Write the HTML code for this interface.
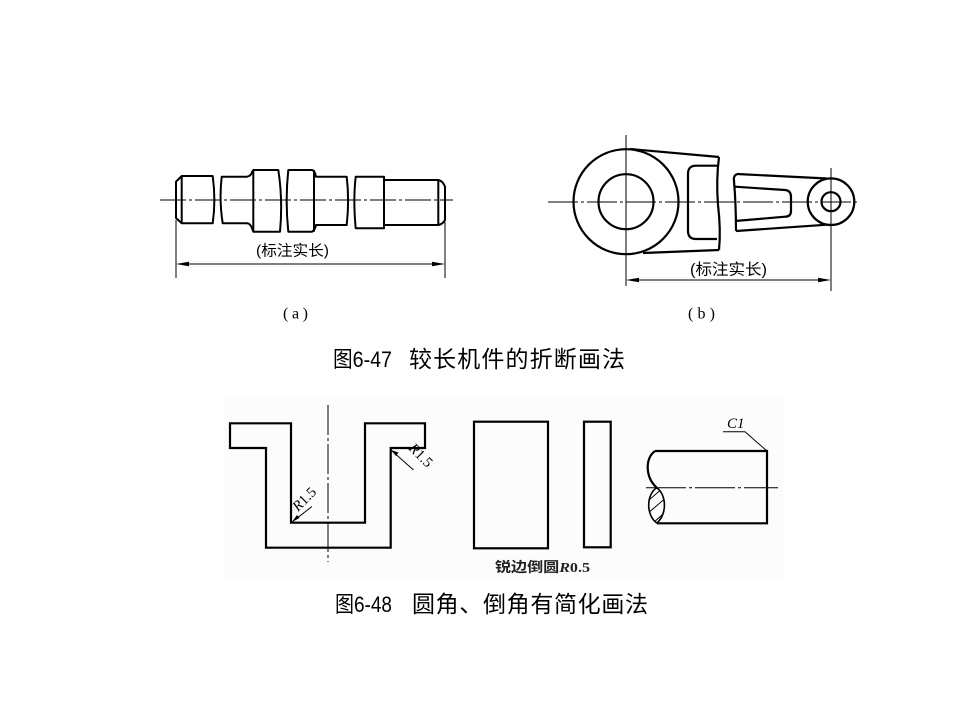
<!DOCTYPE html>
<html><head><meta charset="utf-8"><style>
html,body{margin:0;padding:0;background:#fff;}
svg{display:block;}
.cj{font-family:"Liberation Sans","Noto Sans CJK SC",sans-serif;}
</style></head><body>
<svg width="960" height="720" viewBox="0 0 960 720" xmlns="http://www.w3.org/2000/svg">
<rect x="0" y="0" width="960" height="720" fill="#fff"/>
<rect x="223" y="398" width="560" height="180" fill="#fcfcfc"/>

<!-- ===== Fig (a) shaft ===== -->
<g fill="none" stroke="#000" stroke-width="2" stroke-linejoin="round">
  <path d="M181.7,176 L212.7,176 Q216,200 212.7,223.3 L181.7,223.3 L176,218 L176,181.7 Z"/>
  <path d="M181.7,176 L181.7,223.3"/>
  <path d="M221.7,176.7 L247,176.7 Q251,176 252,172 L253.3,170 L278.3,170 Q283,200 280,231.7 L253.3,231.7 L252,228 Q250,223.3 247,223.3 L222.7,223.3 Q219,200 221.7,176.7 Z"/>
  <path d="M253.3,170 L253.3,231.7"/>
  <path d="M288.3,170 L312,170 Q315,171 316,176.7 L346.7,176.7 Q349.5,200 346.7,225 L316,225 Q315,230 312,231.7 L288.3,231.7 Q285,200 288.3,170 Z"/>
  <path d="M314,170 L314,231.7"/>
  <path d="M355.7,176.7 L384,176.7 L384,180 L438.3,180 Q443,181 445,186.7 L445,220 Q443,224 438.3,225 L384,225 L384,228.3 L355.7,228.3 Q353,200 355.7,176.7 Z"/>
  <path d="M384,176.7 L384,228.3 M438.3,180 L438.3,225"/>
</g>
<path d="M160,200 L453,200" stroke="#000" stroke-width="1" stroke-dasharray="26 3 3 3"/>
<!-- dimension a -->
<g stroke="#000" stroke-width="1">
  <path d="M176,220 L176,278 M445,222 L445,278 M180,264 L441,264"/>
</g>
<polygon points="176,264 189,261.8 189,266.2" fill="#000"/>
<polygon points="445,264 432,261.8 432,266.2" fill="#000"/>
<text x="256" y="255.5" font-size="15" textLength="73" lengthAdjust="spacingAndGlyphs" class="cj" fill="#000">(标注实长)</text>
<text x="283" y="318.5" font-size="16" font-family="Liberation Serif, serif" textLength="25" lengthAdjust="spacing" fill="#000">(a)</text>

<!-- ===== Fig (b) ===== -->
<g fill="none" stroke="#000" stroke-width="2.2">
  <circle cx="626" cy="201.7" r="52.5"/>
  <circle cx="626" cy="201.7" r="27.5"/>
  <path d="M630,149 L719,157"/>
  <path d="M643,253 L719,250"/>
  <path d="M719,157 Q716,180 718,205 Q721,230 719,250"/>
  <path d="M717,165.7 L696,165.7 Q688,165.7 688,174 L688,231 Q688,239 696,239 L717,239"/>
  <path d="M737,174 L827,178.5"/>
  <path d="M736,231 L827,224.7"/>
  <path d="M737,174 Q733,176 734,181 Q736,205 736,231"/>
  <path d="M735,186.7 L785,190 Q791,190.5 791,197 L791,211 Q791,216.7 785,216.7 L735,221"/>
  <circle cx="831" cy="201.7" r="23.3"/>
  <circle cx="831" cy="201.7" r="9.5"/>
</g>
<g stroke="#000" stroke-width="1">
  <path d="M548,202 L860,202" stroke-dasharray="30 3 3 3"/>
  <path d="M626,135 L626,286"/>
  <path d="M831,168 L831,291"/>
  <path d="M630,280 L827,280"/>
</g>
<polygon points="626,280 639,277.8 639,282.2" fill="#000"/>
<polygon points="831,280 818,277.8 818,282.2" fill="#000"/>
<text x="690" y="274.5" font-size="15.5" textLength="77" lengthAdjust="spacingAndGlyphs" class="cj" fill="#000">(标注实长)</text>
<text x="688" y="318.5" font-size="16" font-family="Liberation Serif, serif" textLength="27" lengthAdjust="spacing" fill="#000">(b)</text>

<!-- caption 1 -->
<text x="333" y="367" font-size="22" class="cj" textLength="59" lengthAdjust="spacingAndGlyphs" fill="#000">图6-47</text>
<text x="409" y="367" font-size="23" class="cj" textLength="216" lengthAdjust="spacing" fill="#000">较长机件的折断画法</text>

<!-- ===== Fig 6-48 ===== -->
<g fill="none" stroke="#000" stroke-width="2.2" stroke-linejoin="miter">
  <path d="M230,423.3 L291,423.3 L291,522.7 L365,522.7 L365,423.3 L425,423.3 L425,448 L390.7,448 L390.7,547.7 L266,547.7 L266,448 L230,448 Z"/>
  <rect x="474" y="421.7" width="74" height="126.6"/>
  <rect x="584" y="421.7" width="26.7" height="125.6"/>
  <path d="M655,451 L767,451 L767,523.3 L656.7,523.3"/>
  <path d="M655,451 C645,458 645,477 656.7,487.7"/>
</g>
<g fill="none" stroke="#000" stroke-width="1.6">
  <path d="M656.7,487.7 C646,495 646,515 656.7,523"/>
  <path d="M656.7,487.7 C667,495 667,515 656.7,523"/>
</g>
<clipPath id="lens"><path d="M656.7,487.7 C646,495 646,515 656.7,523 C667,515 667,495 656.7,487.7 Z"/></clipPath>
<g clip-path="url(#lens)" stroke="#000" stroke-width="1">
  <path d="M640,508 L665,486 M640,520 L668,496 M645,530 L670,508"/>
</g>
<g stroke="#000" stroke-width="1" fill="none">
  <path d="M328,405 L328,562" stroke-dasharray="30 3 3 3"/>
  <path d="M646,487.7 L778,487.7" stroke-dasharray="40 3 3 3"/>
  <path d="M292,522 L312,506.5"/>
  <path d="M391,450 L413.5,470"/>
  <path d="M767,451 L745,431.7 L723,431.7"/>
</g>
<polygon points="292,522 297,515 299.5,518" fill="#000"/>
<polygon points="391,450 398.5,452.5 396,456" fill="#000"/>
<text transform="translate(298,512) rotate(-45)" font-size="14.5" font-family="Liberation Serif, serif" fill="#000"><tspan font-style="italic">R</tspan>1.5</text>
<text transform="translate(408,449) rotate(45)" font-size="14.5" font-family="Liberation Serif, serif" fill="#000"><tspan font-style="italic">R</tspan>1.5</text>
<text x="727" y="428" font-size="15" font-family="Liberation Serif, serif" font-style="italic" fill="#000">C1</text>
<text x="495" y="572" font-size="14" font-weight="bold" class="cj" textLength="95" lengthAdjust="spacingAndGlyphs" fill="#222">锐边倒圆<tspan font-family="Liberation Serif, serif" font-style="italic">R</tspan><tspan font-family="Liberation Serif, serif">0.5</tspan></text>

<!-- caption 2 -->
<text x="335" y="612" font-size="22" class="cj" textLength="57" lengthAdjust="spacingAndGlyphs" fill="#000">图6-48</text>
<text x="412" y="612" font-size="23" class="cj" textLength="236" lengthAdjust="spacing" fill="#000">圆角、倒角有简化画法</text>
</svg>
</body></html>
